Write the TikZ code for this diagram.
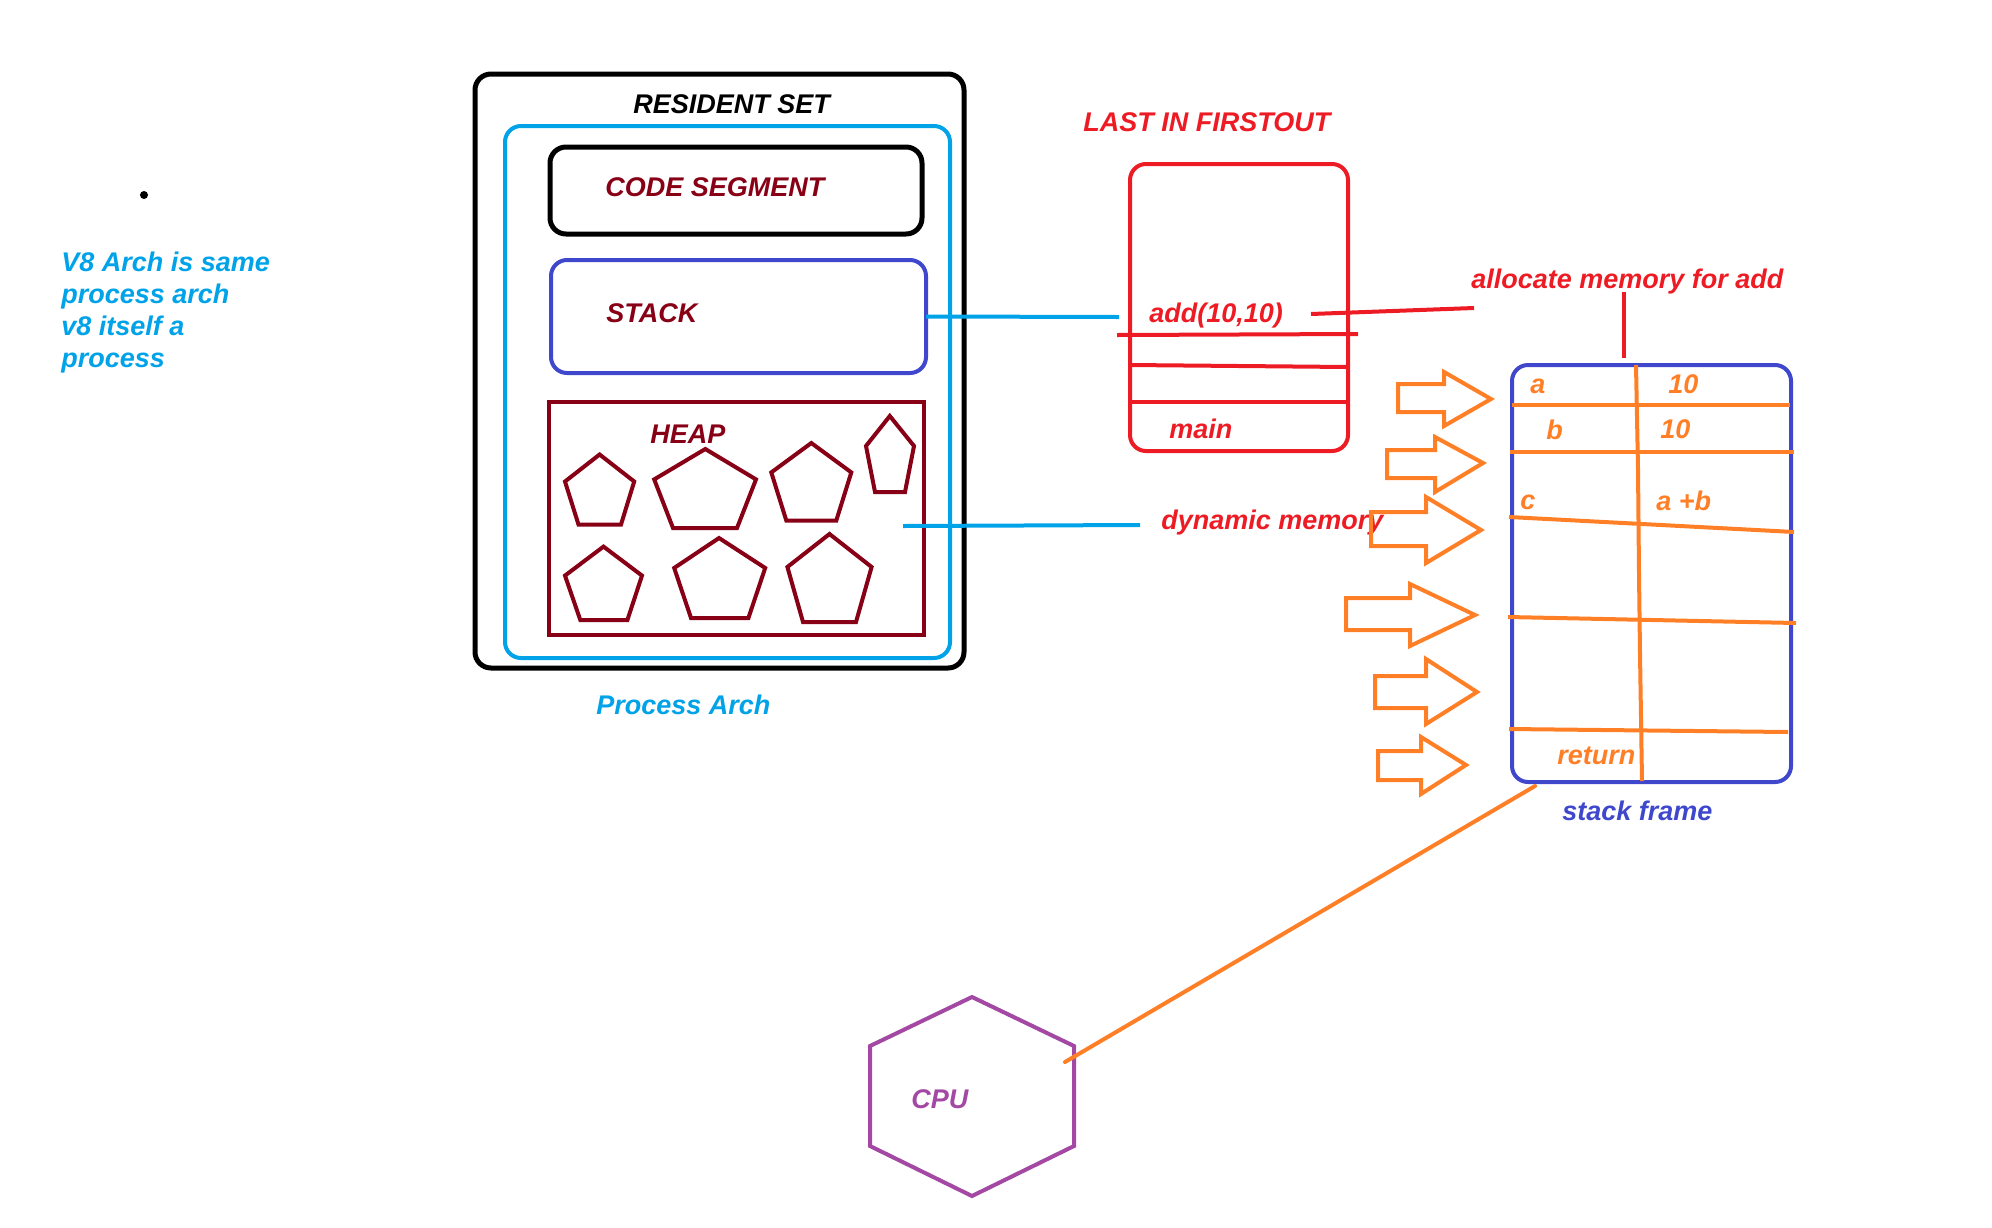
\documentclass[tikz,border=0pt]{standalone}
\usepackage{fontspec}
\setmainfont{Liberation Sans}
\usepackage{xcolor}
\usetikzlibrary{positioning,calc}
\definecolor{skyline}{HTML}{00A2E8}
\definecolor{indigoline}{HTML}{3F48CC}
\definecolor{heapred}{HTML}{880015}
\definecolor{stackred}{HTML}{ED1C24}
\definecolor{frameorange}{HTML}{FF7F27}
\definecolor{cpupurple}{HTML}{A349A4}

\begin{document}
\begin{tikzpicture}[x=0.5pt,y=-0.5pt]

	\tikzset{
		lbl/.style={inner sep=0pt, anchor=base west, font=\fontsize{13.5}{16}\selectfont\bfseries\itshape},
		box/.style={draw, anchor=north west, outer sep=0pt, rounded corners=8pt},
		hline/.style={line width=2pt, frameorange},
		rline/.style={line width=2pt, stackred},
		link/.style={line width=2pt, skyline},
		pent/.style={line width=2pt, heapred},
		blockarrow/.style={line width=2pt, frameorange}
	}

	\useasboundingbox (0,0) rectangle (1992,1227);

	% ===== LEFT NOTE =====
	\node[circle, fill=black, inner sep=0pt, minimum size=4pt] (dot) at (144,195) {};
	\node[lbl, skyline, anchor=north west, align=left] (note) at (61,252)
	{V8 Arch is same\\process arch\\v8 itself a\\process};

	% ===== PROCESS =====
	\node[box, line width=2.5pt, minimum width=244.5pt, minimum height=297pt] (resident) at (475,74) {};
	\node[box, line width=2pt, skyline, minimum width=222.5pt, minimum height=266pt] (process) at (505,126) {};
	\node[box, line width=2.5pt, minimum width=186pt, minimum height=43.5pt] (code) at (550,147) {};
	\node[box, line width=2pt, indigoline, minimum width=187.5pt, minimum height=56.5pt] (stackbox) at (551,260) {};
	\node[box, line width=2pt, heapred, rounded corners=0pt, minimum width=187.5pt, minimum height=116.5pt] (heap) at (549,402) {};

	\node[lbl] (residentlbl) at (633,113) {RESIDENT SET};
	\node[lbl, heapred] (codelbl) at (605,196) {CODE SEGMENT};
	\node[lbl, heapred] (stacklbl) at (606,322) {STACK};
	\node[lbl, heapred] (heaplbl) at (650,443) {HEAP};
	\node[lbl, skyline] (processlbl) at (596,714) {Process Arch};

	% ===== HEAP OBJECTS =====
	\draw[pent] (599.6,454.5) -- (634.2,481.5) -- (621,524.6) -- (578.5,524.6) -- (565,481.5) -- cycle;
	\draw[pent] (705.3,449) -- (756,479.4) -- (737,528) -- (673,528) -- (654.2,479.4) -- cycle;
	\draw[pent] (811.3,443) -- (851.3,472.4) -- (836.3,520.5) -- (786.3,520.5) -- (771.3,472.4) -- cycle;
	\draw[pent] (889.8,416) -- (914,446) -- (905,492) -- (875,492) -- (866,446) -- cycle;
	\draw[pent] (603.5,546.6) -- (642,575.6) -- (627.4,620) -- (580.3,620) -- (565,575.6) -- cycle;
	\draw[pent] (719,538) -- (765.2,568) -- (748.4,618) -- (691,618) -- (674.2,568) -- cycle;
	\draw[pent] (829.5,534) -- (871.6,567) -- (856,622) -- (803,622) -- (787.4,567) -- cycle;

	% ===== CALL STACK =====
	\node[lbl, stackred] (lifo) at (1083,131) {LAST IN FIRSTOUT};
	\node[box, line width=2pt, stackred, minimum width=109pt, minimum height=143.5pt] (calls) at (1130,164) {};
	\node[lbl, stackred] (addlbl) at (1149,322) {add(10,10)};
	\node[lbl, stackred] (mainlbl) at (1169,438) {main};
	\node[lbl, stackred] (dynamic) at (1161,529) {dynamic memory};
	\node[lbl, stackred] (alloc) at (1471,288) {allocate memory for add};

	\coordinate (addend) at (1311,314);
	\coordinate (allocend) at (1474,308);
	\coordinate (stackend) at (1119,317);
	\coordinate (heapstart) at (903,526);
	\coordinate (heapend) at (1140,525);

	\draw[rline] (1117,335) -- (1358,334);
	\draw[rline] (calls.west |- 0,365) -- (calls.east |- 0,367);
	\draw[rline] (calls.west |- 0,402) -- (calls.east |- 0,402);
	\draw[rline] (addend) -- (allocend);
	\draw[link] (stackbox.east) -- (stackend);
	\draw[link] (heapstart) -- (heapend);

	% ===== STACK FRAME =====
	\node[box, line width=2pt, indigoline, minimum width=139.5pt, minimum height=208.5pt] (frame) at (1512,365) {};
	\coordinate (framein) at (1624,292);
	\draw[rline] (framein) -- (1624,358);

	\draw[hline] (1636,365) -- (1638,469) -- (1639,574) -- (1640,654) -- (1642,781);
	\draw[hline] (1512,405) -- (1790,405);
	\draw[hline] (1510,452) -- (1794,452);
	\draw[hline] (1509,517) -- (1794,532);
	\draw[hline] (1508,617) -- (1796,623);
	\draw[hline] (1509,729) -- (1788,732);

	\node[lbl, frameorange] (avar) at (1530,393) {a};
	\node[lbl, frameorange] (aval) at (1668,393) {10};
	\node[lbl, frameorange] (bvar) at (1546,439) {b};
	\node[lbl, frameorange] (bval) at (1660,438) {10};
	\node[lbl, frameorange] (cvar) at (1520,509) {c};
	\node[lbl, frameorange] (cval) at (1656,510) {a +b};
	\node[lbl, frameorange] (retlbl) at (1557,764) {return};
	\node[lbl, indigoline] (framelbl) at (1562,820) {stack frame};

	% ===== ARROWS INTO THE FRAME =====
	\draw[blockarrow] (1398,384) -- (1444,384) -- (1444,372) -- (1491,399) -- (1444,426) -- (1444,412) -- (1398,412) -- cycle;
	\draw[blockarrow] (1387,450) -- (1435,450) -- (1435,437) -- (1483,463) -- (1435,492) -- (1435,478) -- (1387,478) -- cycle;
	\draw[blockarrow] (1371,512) -- (1426,512) -- (1426,497) -- (1481,530) -- (1426,563) -- (1426,546) -- (1371,546) -- cycle;
	\draw[blockarrow] (1346,598) -- (1410,598) -- (1410,584) -- (1475,615) -- (1410,646) -- (1410,630) -- (1346,630) -- cycle;
	\draw[blockarrow] (1375,676) -- (1426,676) -- (1426,659) -- (1477,692) -- (1426,724) -- (1426,708) -- (1375,708) -- cycle;
	\draw[blockarrow] (1378,751) -- (1421,751) -- (1421,737) -- (1466,765) -- (1421,794) -- (1421,780) -- (1378,780) -- cycle;

	% ===== CPU =====
	\draw[line width=2pt, cpupurple] (972,997) -- (1074,1046) -- (1074,1146) -- (972,1196) -- (870,1146) -- (870,1046) -- cycle;
	\node[lbl, cpupurple] (cpulbl) at (911,1108) {CPU};
	\coordinate (cpuin) at (1065,1062);
	\coordinate (frameout) at (1535,786);
	\draw[hline, line cap=round] (frameout) -- (cpuin);

\end{tikzpicture}
\end{document}
